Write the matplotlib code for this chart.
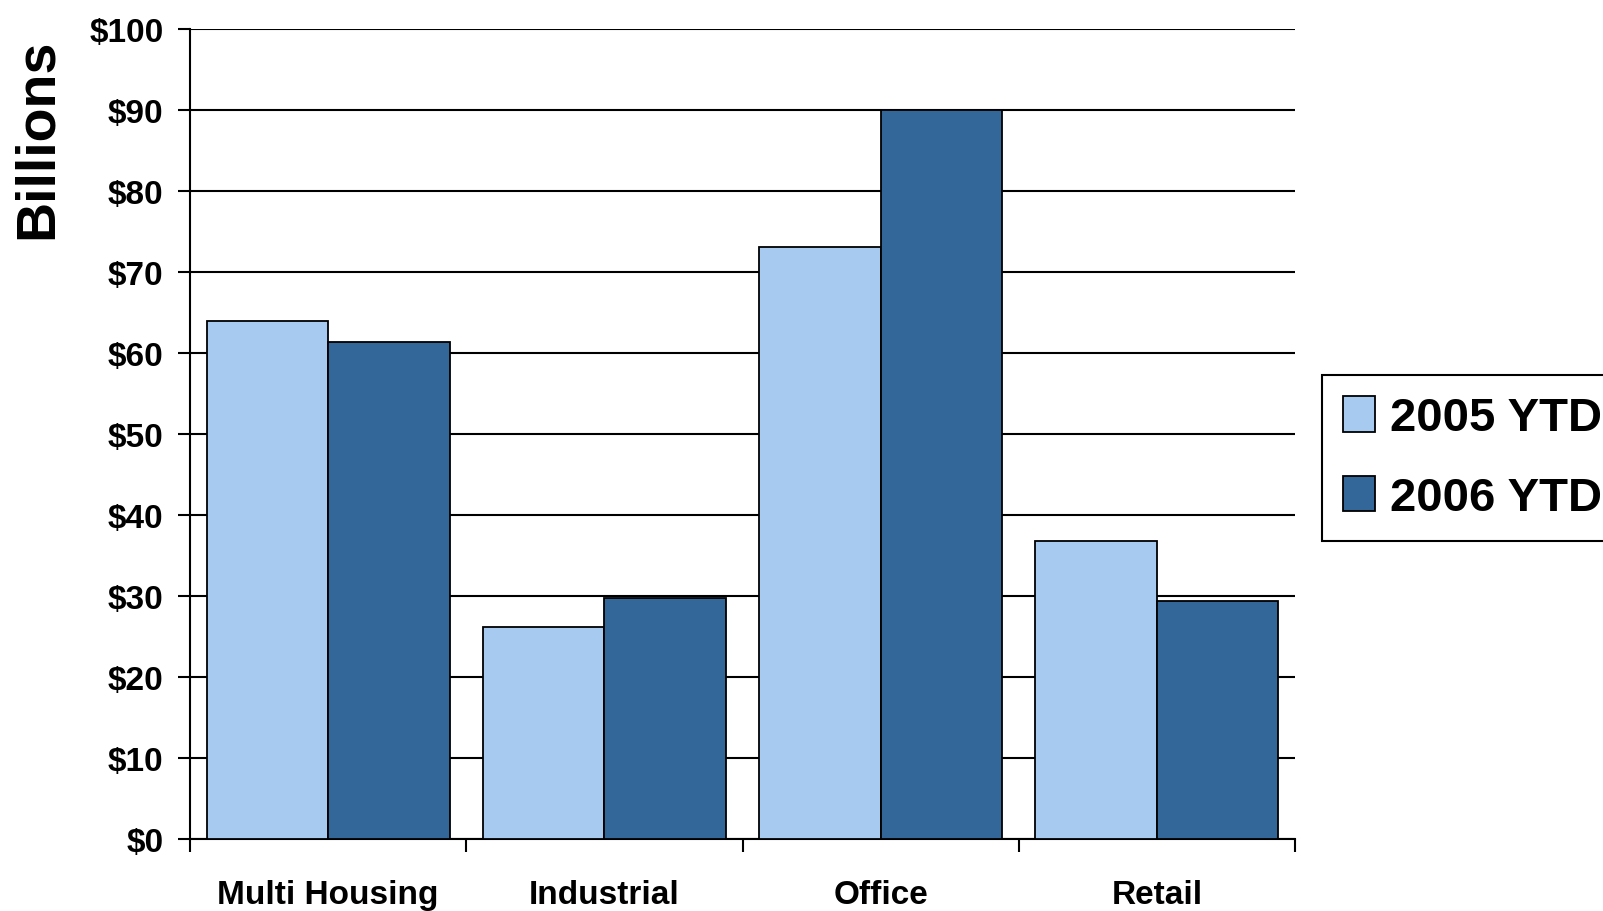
import numpy as np
import matplotlib
matplotlib.use("Agg")
import matplotlib.pyplot as plt

plt.rcParams['font.family'] = ['Liberation Sans', 'DejaVu Sans']
plt.rcParams['font.weight'] = 'bold'

categories = ["Multi Housing", "Industrial", "Office", "Retail"]
ytd_2005 = [64.0, 26.2, 73.1, 36.8]
ytd_2006 = [61.4, 29.7, 90.0, 29.4]
series_names = ["2005 YTD", "2006 YTD"]
yticks = [0, 10, 20, 30, 40, 50, 60, 70, 80, 90, 100]
ytick_labels = ["$" + str(v) for v in yticks]

light = "#A6CAF0"
dark = "#336699"

fig = plt.figure(figsize=(16.03, 9.12), dpi=100)
ax = fig.add_axes([190 / 1603, 72 / 912, 1105 / 1603, 810 / 912])

x = np.arange(len(categories))
w = 0.44
b1 = ax.bar(x - 0.22, ytd_2005, w, color=light, edgecolor="black", linewidth=1.3, zorder=3, label=series_names[0])
b2 = ax.bar(x + 0.22, ytd_2006, w, color=dark, edgecolor="black", linewidth=1.3, zorder=3, label=series_names[1])

ax.set_xlim(-0.5, len(categories) - 0.5)
ax.set_ylim(0, 100)
ax.set_yticks(yticks)
ax.set_yticklabels(ytick_labels, fontsize=24, fontweight="bold")
ax.yaxis.grid(True, color="black", linewidth=1.5, zorder=0)
ax.set_axisbelow(True)

# category separators as major ticks, labels on minor ticks
ax.set_xticks(np.arange(-0.5, len(categories), 1.0))
ax.set_xticklabels([])
ax.set_xticks(x, minor=True)
ax.set_xticklabels(categories, minor=True, fontsize=24, fontweight="bold")
ax.tick_params(axis="x", which="major", length=9, width=1.5, direction="out")
ax.tick_params(axis="x", which="minor", length=0, pad=29)
ax.tick_params(axis="y", length=9, width=1.5, pad=10)

for s in ["top", "right"]:
    ax.spines[s].set_visible(False)
for s in ["left", "bottom"]:
    ax.spines[s].set_linewidth(1.5)

fig.text(38 / 1603, 1 - 139 / 912, "Billions", rotation=90, ha="center", va="center",
         fontsize=40, fontweight="bold")

leg = fig.legend(handles=[b1, b2], loc="upper left",
                 bbox_to_anchor=(1322 / 1603, 1 - 376 / 912), borderaxespad=0,
                 fancybox=False, edgecolor="black", framealpha=1,
                 prop={"size": 34, "weight": "bold"},
                 handlelength=0.68, handleheight=0.78, handletextpad=0.3,
                 labelspacing=0.75, borderpad=0.45)
leg.get_frame().set_linewidth(1.5)

fig.savefig("out.png", dpi=100)
